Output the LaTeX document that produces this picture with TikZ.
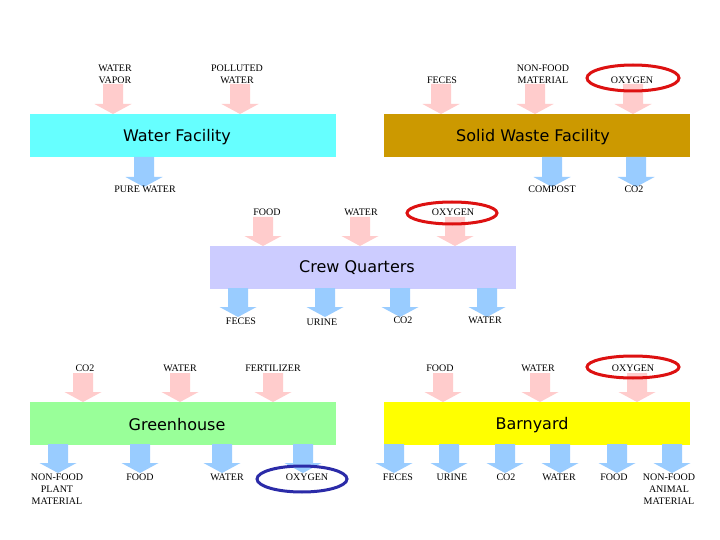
\documentclass[tikz,border=0pt]{standalone}
\usepackage{fontspec}
\setmainfont{Liberation Serif}
\newfontfamily\titlefont{DejaVu Sans}
\definecolor{inpink}{HTML}{FFCCCC}
\definecolor{outblue}{HTML}{99CCFF}
\definecolor{wfcyan}{HTML}{66FFFF}
\definecolor{swgold}{HTML}{CC9900}
\definecolor{crewlav}{HTML}{CCCCFF}
\definecolor{ghgreen}{HTML}{99FF99}
\definecolor{byyellow}{HTML}{FFFF00}
\definecolor{ringred}{HTML}{DD1111}
\definecolor{ringblue}{HTML}{2B2BA8}
\newcommand\blockarr[4]{\fill[#1] (#2-10,#3) -- (#2+10,#3) -- (#2+10,#4-10) -- (#2+18.5,#4-10) -- (#2,#4) -- (#2-18.5,#4-10) -- (#2-10,#4-10) -- cycle;}
\tikzset{
  facility/.style={draw=none,minimum height=43pt,minimum width=306pt,inner sep=0pt,anchor=north west},
  ttl/.style={font=\titlefont\fontsize{16}{18}\selectfont,inner sep=0pt},
  lbl/.style={font=\fontsize{10}{12}\selectfont,align=center,inner sep=0pt},
  ring/.style={line width=3pt}
}
\begin{document}
\begin{tikzpicture}[x=1pt,y=-1pt]
\useasboundingbox[fill=white] (0,0) rectangle (720,540);
% facility boxes
\node[facility,fill=wfcyan] (wf) at (30,114) {};
\node[facility,fill=swgold] (sw) at (384,114) {};
\node[facility,fill=crewlav] (cq) at (210,246) {};
\node[facility,fill=ghgreen] (gh) at (30,402) {};
\node[facility,fill=byyellow] (by) at (384,402) {};
\node[ttl] (wft) at (177,137) {Water Facility};
\node[ttl] (swt) at (533,137) {Solid Waste Facility};
\node[ttl] (cqt) at (357,268) {Crew Quarters};
\node[ttl] (ght) at (177,425) {Greenhouse};
\node[ttl] (byt) at (532,425) {Barnyard};
% top inputs
\blockarr{inpink}{113}{84}{114}
\blockarr{inpink}{240}{84}{114}
\blockarr{inpink}{441}{84}{114}
\blockarr{inpink}{535}{84}{114}
\blockarr{inpink}{633}{84}{114}
\node[lbl] (l1) at (115,74) {WATER\\VAPOR};
\node[lbl] (l2) at (237,74) {POLLUTED\\WATER};
\node[lbl] (l3) at (442,80) {FECES};
\node[lbl] (l4) at (543,74) {NON-FOOD\\MATERIAL};
\node[lbl] (l5) at (632,80) {OXYGEN};
% top outputs
\blockarr{outblue}{144}{157}{187}
\blockarr{outblue}{552}{157}{187}
\blockarr{outblue}{636}{157}{187}
\node[lbl] (l6) at (145,189) {PURE WATER};
\node[lbl] (l7) at (552,189) {COMPOST};
\node[lbl] (l8) at (634,189) {CO2};
% crew inputs
\blockarr{inpink}{263}{217}{246}
\blockarr{inpink}{360}{217}{246}
\blockarr{inpink}{455}{217}{246}
\node[lbl] (l9) at (267,212) {FOOD};
\node[lbl] (l10) at (361,212) {WATER};
\node[lbl] (l11) at (453,212) {OXYGEN};
% crew outputs
\blockarr{outblue}{238}{288}{317}
\blockarr{outblue}{325}{288}{317}
\blockarr{outblue}{400}{288}{317}
\blockarr{outblue}{487}{288}{317}
\node[lbl] (l12) at (241,321) {FECES};
\node[lbl] (l13) at (322,322) {URINE};
\node[lbl] (l14) at (403,320) {CO2};
\node[lbl] (l15) at (485,320) {WATER};
% greenhouse inputs
\blockarr{inpink}{83}{373}{402}
\blockarr{inpink}{180}{373}{402}
\blockarr{inpink}{273}{373}{402}
\node[lbl] (l16) at (85,368) {CO2};
\node[lbl] (l17) at (180,368) {WATER};
\node[lbl] (l18) at (273,368) {FERTILIZER};
% barnyard inputs
\blockarr{inpink}{443}{373}{402}
\blockarr{inpink}{540}{373}{402}
\blockarr{inpink}{637}{373}{402}
\node[lbl] (l19) at (440,368) {FOOD};
\node[lbl] (l20) at (538,368) {WATER};
\node[lbl] (l21) at (633,368) {OXYGEN};
% greenhouse outputs
\blockarr{outblue}{58}{444}{473}
\blockarr{outblue}{140}{444}{473}
\blockarr{outblue}{222}{444}{473}
\blockarr{outblue}{303}{444}{473}
\node[lbl] (l22) at (57,489) {NON-FOOD\\PLANT\\MATERIAL};
\node[lbl] (l23) at (140,477) {FOOD};
\node[lbl] (l24) at (227,477) {WATER};
\node[lbl] (l25) at (307,477) {OXYGEN};
% barnyard outputs
\blockarr{outblue}{394}{444}{473}
\blockarr{outblue}{449}{444}{473}
\blockarr{outblue}{505}{444}{473}
\blockarr{outblue}{560}{444}{473}
\blockarr{outblue}{617}{444}{473}
\blockarr{outblue}{672}{444}{473}
\node[lbl] (l26) at (398,477) {FECES};
\node[lbl] (l27) at (452,477) {URINE};
\node[lbl] (l28) at (506,477) {CO2};
\node[lbl] (l29) at (559,477) {WATER};
\node[lbl] (l30) at (614,477) {FOOD};
\node[lbl] (l31) at (669,489) {NON-FOOD\\ANIMAL\\MATERIAL};
% rings
\draw[ring,ringred] (633,78) ellipse [x radius=46,y radius=13];
\draw[ring,ringred] (452,213) ellipse [x radius=45,y radius=11];
\draw[ring,ringred] (633,367) ellipse [x radius=46,y radius=11];
\draw[ring,ringblue] (302,479) ellipse [x radius=45,y radius=13];
\end{tikzpicture}
\end{document}
